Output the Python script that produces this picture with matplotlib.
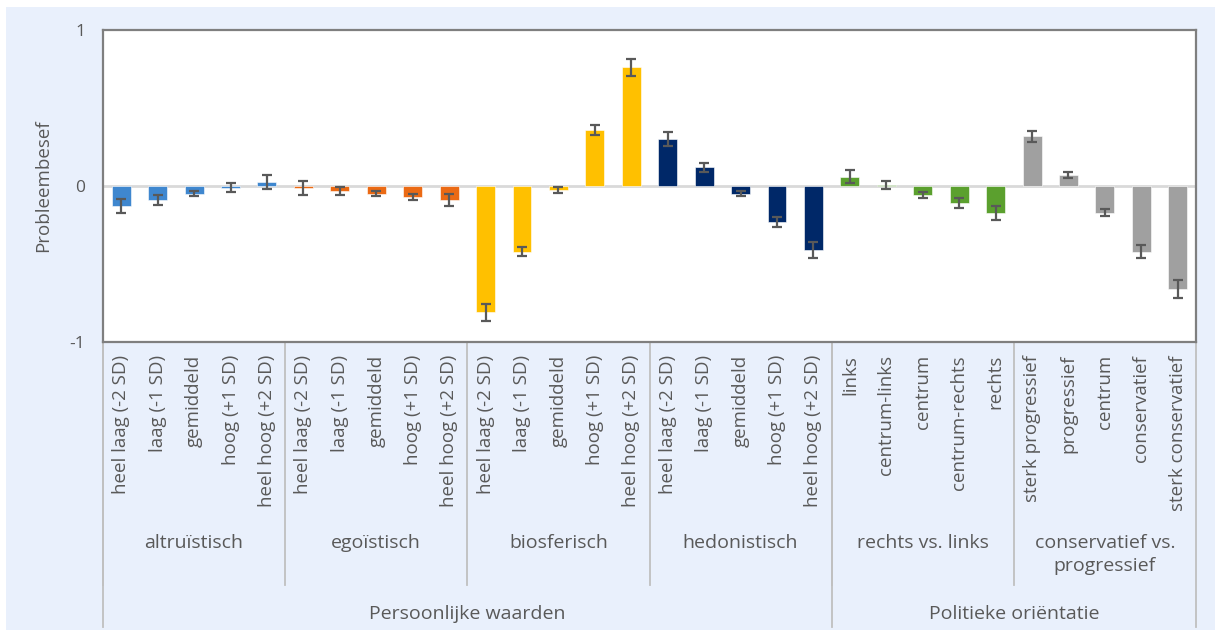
import matplotlib.pyplot as plt
import matplotlib.transforms as mtransforms
from matplotlib.patches import Rectangle

# ---------- data ----------
groups = ["altruïstisch", "egoïstisch", "biosferisch", "hedonistisch",
          "rechts vs. links", "conservatief vs.\nprogressief"]
main_groups = ["Persoonlijke waarden", "Politieke oriëntatie"]
main_sizes = [4, 2]  # number of groups under each main group

sd_levels = ["heel laag (-2 SD)", "laag (-1 SD)", "gemiddeld",
             "hoog (+1 SD)", "heel hoog (+2 SD)"]
rl_levels = ["links", "centrum-links", "centrum", "centrum-rechts", "rechts"]
cp_levels = ["sterk progressief", "progressief", "centrum",
             "conservatief", "sterk conservatief"]
labels = sd_levels * 4 + rl_levels + cp_levels

values = [-0.13, -0.09, -0.05, -0.01, 0.025,
          -0.01, -0.03, -0.05, -0.07, -0.09,
          -0.81, -0.42, -0.025, 0.36, 0.76,
          0.30, 0.12, -0.05, -0.23, -0.41,
          0.06, 0.005, -0.06, -0.11, -0.17,
          0.32, 0.07, -0.17, -0.42, -0.66]
errors = [0.045, 0.03, 0.015, 0.03, 0.045,
          0.045, 0.025, 0.015, 0.02, 0.04,
          0.055, 0.03, 0.02, 0.03, 0.055,
          0.045, 0.03, 0.015, 0.03, 0.05,
          0.04, 0.025, 0.02, 0.03, 0.045,
          0.035, 0.02, 0.022, 0.04, 0.055]

group_colors = ["#3F87CF", "#EB6A14", "#FFC000", "#002868", "#5BA02E", "#A0A0A0"]

TEXT = "#595959"
plt.rcParams["font.family"] = ["Open Sans", "DejaVu Sans"]

fig = plt.figure(figsize=(12.2, 6.33), dpi=100)
fig.patch.set_facecolor("white")
fig.patches.append(Rectangle((6 / 1220, 3 / 633), 1209 / 1220, 623 / 633,
                             transform=fig.transFigure, facecolor="#E9F0FC",
                             edgecolor="none", zorder=-10))

ax = fig.add_axes([103 / 1220, 1 - 342 / 633, 1093 / 1220, 312 / 633])
ax.set_facecolor("white")

n = len(values)
x = list(range(n))
colors = [group_colors[i // 5] for i in x]

ax.axhline(0, color="#D9D9D9", lw=2, zorder=1)
ax.bar(x, values, width=0.52, color=colors, edgecolor="white", linewidth=0.4, zorder=2)
ax.errorbar(x, values, yerr=errors, fmt="none", ecolor="#595959",
            elinewidth=1.6, capsize=3.3, capthick=1.6, zorder=3)

ax.set_xlim(-0.5, n - 0.5)
ax.set_ylim(-1, 1)
ax.set_yticks([-1, 0, 1])
ax.set_yticklabels(["-1", "0", "1"], color=TEXT, fontsize=12.5)
ax.tick_params(axis="y", length=0, pad=13)
ax.set_xticks([])
for s in ax.spines.values():
    s.set_color("#7F7F7F")
    s.set_linewidth(1.6)

ax.set_ylabel("Probleembesef", color=TEXT, fontsize=13.5, labelpad=12)

# ---------- multi-level category axis ----------
trans = mtransforms.blended_transform_factory(ax.transData, ax.transAxes)
for i, lab in enumerate(labels):
    ax.text(i, -0.042, lab, rotation=90, ha="center", va="top",
            color=TEXT, fontsize=13.5, transform=trans, clip_on=False)

for g, name in enumerate(groups):
    ax.text(g * 5 + 2, -0.615, name, ha="center", va="top", color=TEXT,
            fontsize=14, transform=trans, clip_on=False, linespacing=1.35)
    ax.plot([g * 5 - 0.5, g * 5 - 0.5], [0, -0.779], color="#C0C0C0",
            lw=1.3, transform=trans, clip_on=False)

start = 0
for name, size in zip(main_groups, main_sizes):
    left = start * 5 - 0.5
    right = (start + size) * 5 - 0.5
    ax.text((left + right) / 2, -0.872, name, ha="center", va="center",
            color=TEXT, fontsize=14, transform=trans, clip_on=False)
    ax.plot([left, left], [0, -0.913], color="#C0C0C0", lw=1.3,
            transform=trans, clip_on=False)
    start += size
ax.plot([n - 0.5, n - 0.5], [0, -0.913], color="#C0C0C0", lw=1.3,
        transform=trans, clip_on=False)

fig.savefig("out.png", dpi=100)
